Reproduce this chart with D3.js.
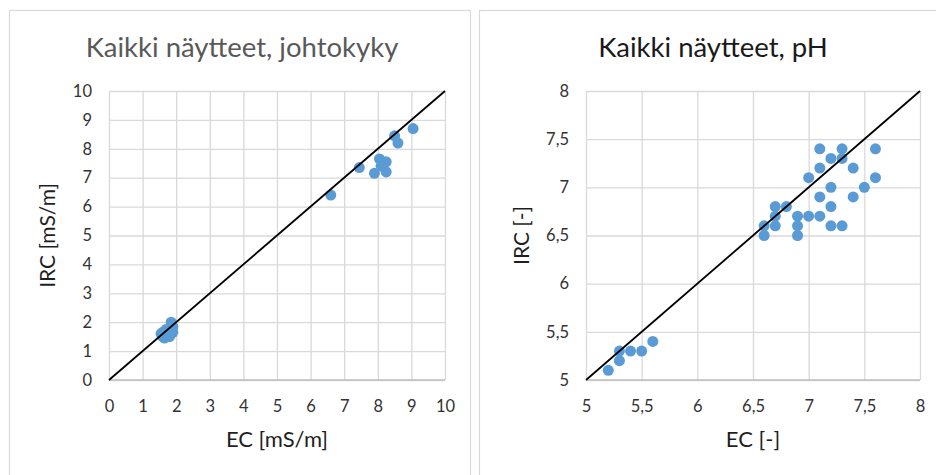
<!DOCTYPE html>
<html>
<head>
<meta charset="utf-8">
<script src="https://cdn.jsdelivr.net/npm/d3@7"></script>
<style>
  html, body { margin: 0; padding: 0; background: #fff; }
  svg { display: block; font-family: Lato, "Open Sans", sans-serif; }
</style>
</head>
<body>
<svg id="chart" width="936" height="475"></svg>
<script>
// Conductivity (johtokyky): EC vs IRC, mS/m
const condEC  = [1.55, 1.6, 1.65, 1.6, 1.7, 1.75, 1.8, 1.85, 1.85, 1.9, 1.85, 1.9, 1.7,
                 6.6, 7.45, 7.9, 8.05, 8.1, 8.25, 8.25, 8.5, 8.6, 9.05];
const condIRC = [1.6, 1.65, 1.45, 1.5, 1.55, 1.7, 1.5, 1.6, 1.8, 1.85, 2.0, 1.65, 1.75,
                 6.4, 7.35, 7.15, 7.65, 7.4, 7.55, 7.2, 8.45, 8.2, 8.7];

// pH: EC vs IRC
const phEC  = [5.2, 5.3, 5.3, 5.4, 5.5, 5.6,
               6.6, 6.6, 6.7, 6.7, 6.7, 6.8, 6.9, 6.9, 6.9, 7.0, 7.0, 7.1, 7.1, 7.1, 7.1,
               7.2, 7.2, 7.2, 7.2, 7.3, 7.3, 7.3, 7.4, 7.4, 7.5, 7.6, 7.6];
const phIRC = [5.1, 5.3, 5.2, 5.3, 5.3, 5.4,
               6.5, 6.6, 6.6, 6.7, 6.8, 6.8, 6.7, 6.6, 6.5, 6.7, 7.1, 6.7, 6.9, 7.2, 7.4,
               7.3, 7.0, 6.8, 6.6, 6.6, 7.3, 7.4, 7.2, 6.9, 7.0, 7.4, 7.1];

const condTicks = [0, 1, 2, 3, 4, 5, 6, 7, 8, 9, 10];
const phTicks   = [5, 5.5, 6, 6.5, 7, 7.5, 8];

const fiLocale = d3.formatLocale({ decimal: ",", thousands: "\u00a0", grouping: [3], currency: ["", " €"] });
const fmt = fiLocale.format("~g");

const svg = d3.select("#chart");

// chart area frames
svg.append("rect").attr("x", 9.5).attr("y", 10.5).attr("width", 461).attr("height", 480)
  .attr("fill", "#fff").attr("stroke", "#d9d9d9").attr("stroke-width", 1.2);
svg.append("rect").attr("x", 479.5).attr("y", 10.5).attr("width", 470).attr("height", 480)
  .attr("fill", "#fff").attr("stroke", "#d9d9d9").attr("stroke-width", 1.2);

function drawPanel(cfg) {
  const { left, top, width, height, domain, ticks, xs, ys } = cfg;
  const x = d3.scaleLinear().domain(domain).range([left, left + width]);
  const y = d3.scaleLinear().domain(domain).range([top + height, top]);
  const g = svg.append("g");

  // gridlines
  g.append("g").attr("transform", `translate(0,${top + height})`)
    .call(d3.axisBottom(x).tickValues(ticks).tickSize(-height).tickFormat(""))
    .call(s => s.select(".domain").remove())
    .call(s => s.selectAll("line").attr("stroke", "#d9d9d9").attr("stroke-width", 1.3));
  g.append("g").attr("transform", `translate(${left},0)`)
    .call(d3.axisLeft(y).tickValues(ticks).tickSize(-width).tickFormat(""))
    .call(s => s.select(".domain").remove())
    .call(s => s.selectAll("line").attr("stroke", "#d9d9d9").attr("stroke-width", 1.3));

  // bottom axis line
  g.append("line").attr("x1", left).attr("x2", left + width)
    .attr("y1", top + height).attr("y2", top + height)
    .attr("stroke", "#bfbfbf").attr("stroke-width", 1.5);

  // tick labels
  g.append("g").attr("transform", `translate(0,${top + height})`)
    .call(d3.axisBottom(x).tickValues(ticks).tickSize(0).tickPadding(20).tickFormat(fmt))
    .call(s => s.select(".domain").remove())
    .call(s => s.selectAll("text").attr("fill", "#333").style("font-size", "16.5px")
      .style("font-family", "Lato, sans-serif"));
  g.append("g").attr("transform", `translate(${left},0)`)
    .call(d3.axisLeft(y).tickValues(ticks).tickSize(0).tickPadding(17).tickFormat(fmt))
    .call(s => s.select(".domain").remove())
    .call(s => s.selectAll("text").attr("fill", "#333").style("font-size", "16.5px")
      .style("font-family", "Lato, sans-serif"));

  // points
  g.append("g").selectAll("circle").data(xs.map((v, i) => [v, ys[i]])).join("circle")
    .attr("cx", d => x(d[0])).attr("cy", d => y(d[1])).attr("r", 5.5)
    .attr("fill", "#5b9bd5");

  // 1:1 line
  g.append("line")
    .attr("x1", x(domain[0])).attr("y1", y(domain[0]))
    .attr("x2", x(domain[1])).attr("y2", y(domain[1]))
    .attr("stroke", "#000").attr("stroke-width", 1.8);

  // titles
  svg.append("text").attr("x", cfg.titleX).attr("y", 57).attr("text-anchor", "middle")
    .attr("fill", cfg.titleColor).style("font-size", "27.5px").text(cfg.title);
  svg.append("text").attr("x", left + width / 2).attr("y", 447).attr("text-anchor", "middle")
    .attr("fill", "#1f1f1f").style("font-size", "22px").text(cfg.xLabel);
  svg.append("text")
    .attr("transform", `translate(${cfg.yLabelX},${top + height / 2}) rotate(-90)`)
    .attr("text-anchor", "middle")
    .attr("fill", "#1f1f1f").style("font-size", "21px").text(cfg.yLabel);
}

drawPanel({
  left: 109, top: 91, width: 336, height: 289,
  domain: [0, 10], ticks: condTicks, xs: condEC, ys: condIRC,
  title: "Kaikki näytteet, johtokyky", titleX: 242, titleColor: "#595959",
  xLabel: "EC [mS/m]", yLabel: "IRC [mS/m]", yLabelX: 55
});

drawPanel({
  left: 586, top: 91, width: 334, height: 289,
  domain: [5, 8], ticks: phTicks, xs: phEC, ys: phIRC,
  title: "Kaikki näytteet, pH", titleX: 713, titleColor: "#1a1a1a",
  xLabel: "EC [-]", yLabel: "IRC [-]", yLabelX: 529
});
</script>
</body>
</html>
